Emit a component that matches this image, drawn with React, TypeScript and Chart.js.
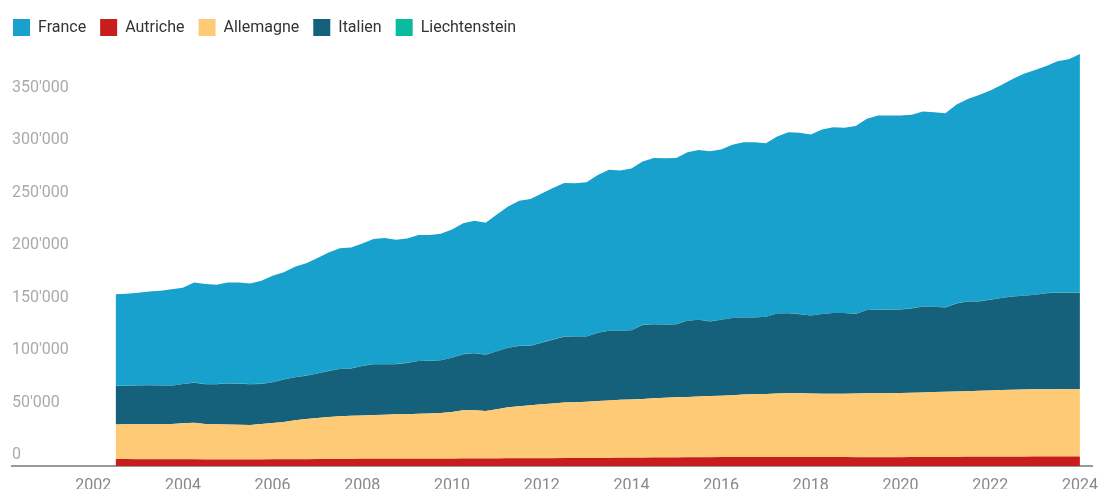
import { useEffect, useRef } from "react";
import { Chart, registerables } from "chart.js";

Chart.register(...registerables);

// Quarters (placed at the start of each quarter on the time axis)
const QUARTERS = [
  "2002-Q3", "2002-Q4",
  "2003-Q1", "2003-Q2", "2003-Q3", "2003-Q4",
  "2004-Q1", "2004-Q2", "2004-Q3", "2004-Q4",
  "2005-Q1", "2005-Q2", "2005-Q3", "2005-Q4",
  "2006-Q1", "2006-Q2", "2006-Q3", "2006-Q4",
  "2007-Q1", "2007-Q2", "2007-Q3", "2007-Q4",
  "2008-Q1", "2008-Q2", "2008-Q3", "2008-Q4",
  "2009-Q1", "2009-Q2", "2009-Q3", "2009-Q4",
  "2010-Q1", "2010-Q2", "2010-Q3", "2010-Q4",
  "2011-Q1", "2011-Q2", "2011-Q3", "2011-Q4",
  "2012-Q1", "2012-Q2", "2012-Q3", "2012-Q4",
  "2013-Q1", "2013-Q2", "2013-Q3", "2013-Q4",
  "2014-Q1", "2014-Q2", "2014-Q3", "2014-Q4",
  "2015-Q1", "2015-Q2", "2015-Q3", "2015-Q4",
  "2016-Q1", "2016-Q2", "2016-Q3", "2016-Q4",
  "2017-Q1", "2017-Q2", "2017-Q3", "2017-Q4",
  "2018-Q1", "2018-Q2", "2018-Q3", "2018-Q4",
  "2019-Q1", "2019-Q2", "2019-Q3", "2019-Q4",
  "2020-Q1", "2020-Q2", "2020-Q3", "2020-Q4",
  "2021-Q1", "2021-Q2", "2021-Q3", "2021-Q4",
  "2022-Q1", "2022-Q2", "2022-Q3", "2022-Q4",
  "2023-Q1", "2023-Q2", "2023-Q3", "2023-Q4",
  "2024-Q1",
];

const AUTRICHE = [
  6600, 6600, 6500, 6500, 6500, 6400, 6400, 6400, 6300, 6300, 6300, 6300,
  6300, 6300, 6400, 6400, 6500, 6500, 6600, 6600, 6700, 6700, 6800, 6800,
  6800, 6800, 6900, 6900, 6900, 7000, 7000, 7100, 7100, 7100, 7200, 7300,
  7400, 7400, 7500, 7500, 7600, 7600, 7700, 7700, 7700, 7800, 7800, 7900,
  8000, 8000, 8200, 8300, 8400, 8400, 8500, 8500, 8500, 8500, 8600, 8600,
  8600, 8500, 8500, 8500, 8500, 8500, 8400, 8400, 8400, 8400, 8400, 8500,
  8500, 8500, 8600, 8600, 8700, 8700, 8800, 8800, 8900, 8900, 9000, 9000, 9100, 9100, 9100,
];

const ALLEMAGNE = [
  33000, 33100, 33200, 33300, 33300, 33600, 34200, 34900, 33700, 33500, 33300, 33000,
  32800, 33700, 34600, 35600, 37000, 38300, 39200, 40100, 40600, 41100, 41400, 41700,
  41900, 42500, 42500, 42800, 43100, 43400, 44500, 45900, 45900, 45400, 46800, 48700,
  49600, 50400, 51300, 52100, 52800, 53200, 53500, 54100, 54700, 55200, 55500, 56000,
  56600, 57000, 57200, 57500, 57800, 58200, 58500, 59000, 59500, 59800, 60000, 60500,
  60700, 60800, 60500, 60400, 60300, 60400, 60700, 60900, 61000, 61000, 61200, 61300,
  61600, 61900, 62100, 62400, 62600, 62900, 63200, 63500, 63700, 63900, 64000, 64100, 64100, 64200, 64300,
];

const ITALIEN = [
  36700, 36600, 36900, 37200, 36800, 36400, 37400, 38100, 37900, 38100, 39000, 39100,
  38800, 38200, 38700, 40500, 41000, 41200, 42200, 43800, 45000, 45100, 47000, 48500,
  48300, 47700, 48700, 50200, 50100, 50200, 51500, 53500, 54500, 53500, 55200, 56600,
  57400, 56800, 58600, 60700, 62700, 62500, 62100, 65100, 66300, 65700, 65900, 70500,
  70500, 69500, 69700, 72500, 73000, 71000, 72200, 73400, 73400, 73100, 73500, 76100,
  76200, 75300, 74300, 75800, 76800, 76700, 75700, 79200, 79400, 79400, 79500, 80200,
  81800, 81200, 80300, 83800, 85400, 85100, 86300, 87600, 88900, 89300, 90000, 91400, 91800, 91700, 91600,
];

const LIECHTENSTEIN = [
  90, 90, 90, 90, 95, 95, 95, 95, 100, 100, 100, 100,
  100, 100, 105, 105, 105, 105, 110, 110, 110, 110, 115, 115,
  115, 115, 115, 115, 120, 120, 120, 120, 120, 120, 125, 125,
  125, 125, 125, 125, 130, 130, 130, 130, 130, 130, 135, 135,
  135, 135, 135, 135, 140, 140, 140, 140, 140, 140, 140, 140,
  145, 145, 145, 145, 145, 145, 150, 150, 150, 150, 150, 150,
  150, 150, 155, 155, 155, 155, 155, 155, 160, 160, 160, 160, 160, 160, 160,
];

const FRANCE = [
  87300, 87600, 88300, 89100, 90200, 91800, 91700, 95300, 95300, 94600, 96100, 96300,
  95900, 98100, 101400, 101900, 105200, 107000, 110000, 112800, 115000, 115200, 116700, 119100,
  120000, 118400, 118500, 120000, 119800, 120500, 122000, 124500, 126000, 125600, 130100, 134300,
  138200, 139600, 141900, 144400, 146400, 145800, 146800, 150000, 153200, 152500, 153900, 155400,
  158200, 158500, 158200, 160400, 161700, 162000, 162100, 164900, 166700, 166800, 165200, 168500,
  172300, 172600, 172300, 175600, 176900, 176400, 178900, 182000, 184900, 184900, 184600, 184400,
  185600, 185200, 184900, 189400, 192700, 196500, 199200, 202800, 207000, 211200, 214100, 216400, 220200, 222300, 227300,
];

const YEAR_TICKS = [2002, 2004, 2006, 2008, 2010, 2012, 2014, 2016, 2018, 2020, 2022, 2024];
const Y_TICKS = [0, 50000, 100000, 150000, 200000, 250000, 300000, 350000];
const LEGEND_ORDER = ["France", "Autriche", "Allemagne", "Italien", "Liechtenstein"];

// stacking order bottom -> top
const SERIES = [
  { label: "Autriche", values: AUTRICHE, color: "#c71e1d" },
  { label: "Allemagne", values: ALLEMAGNE, color: "#ffca76" },
  { label: "Italien", values: ITALIEN, color: "#15607a" },
  { label: "Liechtenstein", values: LIECHTENSTEIN, color: "#09bb9f" },
  { label: "France", values: FRANCE, color: "#18a1cd" },
];

const X_MIN = 2000.19;
const X_MAX = 2024.28;
const Y_MAX = 400000;

function quarterToYear(q: string): number {
  const [y, qq] = q.split("-Q");
  return Number(y) + (Number(qq) - 1) / 4;
}

function fmtThousands(v: number): string {
  return String(Math.round(v)).replace(/\B(?=(\d{3})+(?!\d))/g, "'");
}

export default function App() {
  const ref = useRef<HTMLCanvasElement>(null);

  useEffect(() => {
    if (!ref.current) return;
    const xs = QUARTERS.map(quarterToYear);
    const chart = new Chart(ref.current, {
      type: "line",
      data: {
        datasets: SERIES.map((s, i) => ({
          label: s.label,
          data: s.values.map((v, j) => ({ x: xs[j], y: v })),
          backgroundColor: s.color,
          borderColor: s.color,
          borderWidth: 0,
          pointRadius: 0,
          pointHoverRadius: 0,
          tension: 0,
          fill: i === 0 ? "origin" : "-1",
        })),
      },
      options: {
        responsive: false,
        animation: false,
        events: [],
        layout: { padding: { top: 5, left: 0, right: 7, bottom: 0 } },
        plugins: {
          tooltip: { enabled: false },
          legend: {
            position: "top",
            align: "start",
            labels: {
              boxWidth: 17,
              boxHeight: 17,
              padding: 14,
              color: "#333333",
              font: { family: "Roboto", size: 16 },
              sort: (a: any, b: any) =>
                LEGEND_ORDER.indexOf(a.text) - LEGEND_ORDER.indexOf(b.text),
            },
          },
        },
        scales: {
          x: {
            type: "linear",
            min: X_MIN,
            max: X_MAX,
            grid: { display: false, drawTicks: false },
            border: { display: true, color: "#9a9a9a", width: 2 },
            ticks: {
              color: "#888888",
              font: { family: "Roboto", size: 16, lineHeight: 1 },
              padding: 12,
              maxRotation: 0,
              autoSkip: false,
              callback: (v: any) => String(v),
            },
            afterBuildTicks: (axis: any) => {
              axis.ticks = YEAR_TICKS.map((v) => ({ value: v }));
            },
          },
          y: {
            stacked: true,
            min: 0,
            max: Y_MAX,
            grid: { display: false, drawTicks: false },
            border: { display: false },
            ticks: {
              mirror: true,
              padding: 0,
              labelOffset: -11,
              color: "#aaaaaa",
              font: { family: "Roboto", size: 16 },
              callback: (v: any) => fmtThousands(Number(v)),
            },
            afterBuildTicks: (axis: any) => {
              axis.ticks = Y_TICKS.map((v) => ({ value: v }));
            },
            afterFit: (axis: any) => {
              axis.width = 13;
            },
          },
        },
      },
    });
    return () => chart.destroy();
  }, []);

  return (
    <div
      style={{
        position: "absolute",
        left: -1,
        top: 0,
        width: 1111,
        height: 489,
        overflow: "hidden",
        background: "#ffffff",
      }}
    >
      <canvas ref={ref} width={1111} height={506} style={{ display: "block" }} />
    </div>
  );
}
